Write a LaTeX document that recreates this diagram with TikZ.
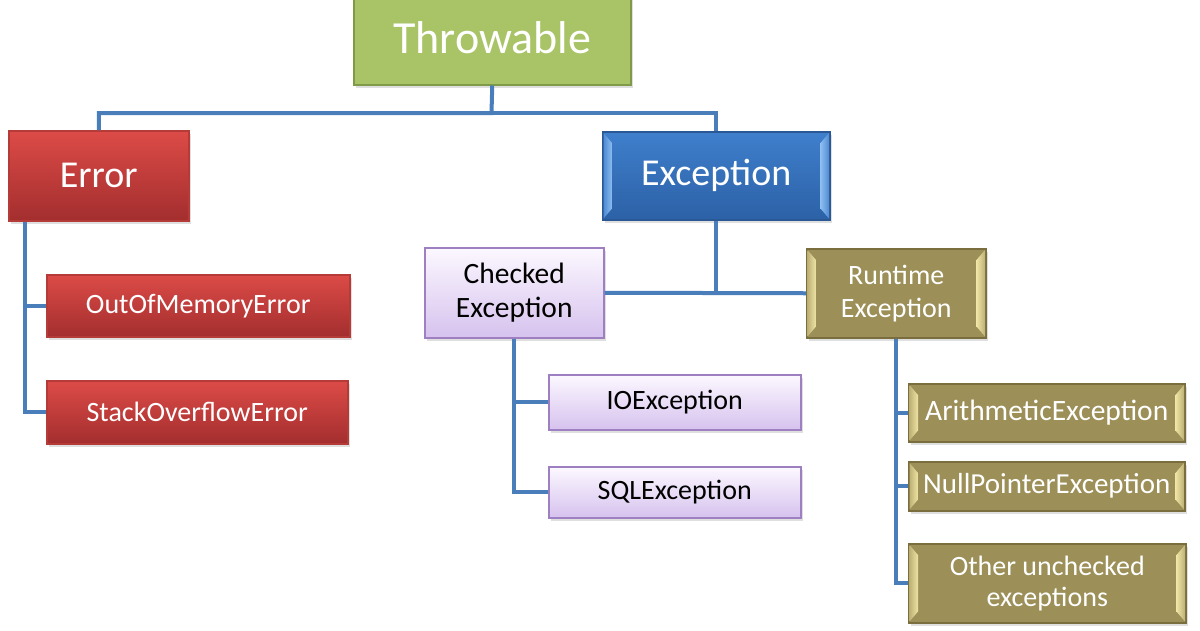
\documentclass[tikz,border=0pt]{standalone}
\usepackage{fontspec}
\setmainfont{Carlito}
\usetikzlibrary{shadows}
\definecolor{conn}{HTML}{4A7EBB}
\definecolor{grnfill}{HTML}{A9C466}
\definecolor{grnline}{HTML}{7F9A48}
\definecolor{redtop}{HTML}{DC4B47}
\definecolor{redbot}{HTML}{A32E2E}
\definecolor{redline}{HTML}{B53B39}
\definecolor{bluetop}{HTML}{3F7FCC}
\definecolor{bluebot}{HTML}{2C61A6}
\definecolor{blueline}{HTML}{2A5894}
\definecolor{bluebevel}{HTML}{8DBDF0}
\definecolor{lavtop}{HTML}{FCF8FF}
\definecolor{lavbot}{HTML}{D6C2EE}
\definecolor{lavline}{HTML}{9E80C2}
\definecolor{olvfill}{HTML}{9C8F58}
\definecolor{olvline}{HTML}{7A6E3E}
\definecolor{olvbevel}{HTML}{EFE4A4}
\newcommand{\bvl}[3]{%
  \shade[left color=#3, right color=#2] ([shift={(1.5,2)}]#1.north west) -- ([shift={(10,12)}]#1.north west) -- ([shift={(10,-12)}]#1.south west) -- ([shift={(1.5,-2)}]#1.south west) -- cycle;
  \shade[left color=#2, right color=#3] ([shift={(-1.5,2)}]#1.north east) -- ([shift={(-10,12)}]#1.north east) -- ([shift={(-10,-12)}]#1.south east) -- ([shift={(-1.5,-2)}]#1.south east) -- cycle;
}
\tikzset{
  box/.style={inner sep=0pt, anchor=north west, align=center, line width=1.5pt,
    drop shadow={shadow xshift=2pt, shadow yshift=-3pt, opacity=0.25}},
  greenbox/.style={box, fill=grnfill, draw=grnline, text=white},
  redbox/.style={box, top color=redtop, bottom color=redbot, draw=redline, text=white},
  bluebox/.style={box, top color=bluetop, bottom color=bluebot, draw=blueline, text=white},
  lavbox/.style={box, top color=lavtop, bottom color=lavbot, draw=lavline, text=black},
  olvbox/.style={box, fill=olvfill, draw=olvline, text=white},
  link/.style={draw=conn, line width=4pt, line join=miter},
}
\begin{document}
\begin{tikzpicture}[x=1pt,y=-1pt]
\useasboundingbox (0,0) rectangle (1200,630);
\clip (0,0) rectangle (1200,630);
\node[greenbox, minimum width=277pt, minimum height=94pt, font=\fontsize{46}{50}\selectfont] (thr) at (353,-10) {Throwable};
\node[redbox, minimum width=180pt, minimum height=90pt, font=\fontsize{38}{42}\selectfont] (err) at (8,130) {Error};
\node[bluebox, minimum width=227pt, minimum height=88pt] (exc) at (602,131) {};
\node[redbox, minimum width=303pt, minimum height=62pt, font=\fontsize{28}{32}\selectfont] (oom) at (46,274) {OutOfMemoryError};
\node[redbox, minimum width=301pt, minimum height=63pt, font=\fontsize{28}{32}\selectfont] (soe) at (46,380) {StackOverflowError};
\node[lavbox, minimum width=179pt, minimum height=90pt, font=\fontsize{29.5}{34}\selectfont] (chk) at (424,247) {Checked\\Exception};
\node[lavbox, minimum width=252pt, minimum height=55pt, font=\fontsize{28}{32}\selectfont] (io) at (548,374) {IOException};
\node[lavbox, minimum width=252pt, minimum height=51pt, font=\fontsize{28}{32}\selectfont] (sql) at (548,466) {SQLException};
\node[olvbox, minimum width=179pt, minimum height=89pt] (rt) at (806,248) {};
\node[olvbox, minimum width=276pt, minimum height=58pt] (ari) at (908,383) {};
\node[olvbox, minimum width=276pt, minimum height=49pt] (npe) at (908,461) {};
\node[olvbox, minimum width=277pt, minimum height=79pt] (oth) at (908,543) {};
\bvl{exc}{bluebevel}{bluetop!80!bluebevel}
\bvl{rt}{olvbevel}{olvfill!60!olvbevel}
\bvl{ari}{olvbevel}{olvfill!60!olvbevel}
\bvl{npe}{olvbevel}{olvfill!60!olvbevel}
\bvl{oth}{olvbevel}{olvfill!60!olvbevel}
\node[text=white, font=\fontsize{38}{42}\selectfont] (exct) at (exc.center) {Exception};
\node[text=white, align=center, font=\fontsize{28}{33}\selectfont] (rtt) at (rt.center) {Runtime\\Exception};
\node[text=white, font=\fontsize{29.5}{32}\selectfont] (arit) at (ari.center) {ArithmeticException};
\node[text=white, font=\fontsize{29}{32}\selectfont] (npet) at (npe.center) {NullPointerException};
\node[text=white, align=center, font=\fontsize{28}{31}\selectfont] (otht) at (oth.center) {Other unchecked\\exceptions};
% connectors
\coordinate (bus) at (491.5,113);
\path[link] (thr.south) -- (bus) -| (err.north);
\path[link] (bus) -| (exc.north);
\path[link] ([xshift=17pt]err.south west) |- (oom.west);
\path[link] ([xshift=17pt]err.south west) |- (soe.west);
\path[link] (exc.south) -- (exc.south |- chk.east);
\path[link] (chk.east) -- (rt.west);
\path[link] (chk.south) |- (io.west);
\path[link] (chk.south) |- (sql.west);
\path[link] (rt.south) |- (ari.west);
\path[link] (rt.south) |- (npe.west);
\path[link] (rt.south) |- (oth.west);
\end{tikzpicture}
\end{document}
